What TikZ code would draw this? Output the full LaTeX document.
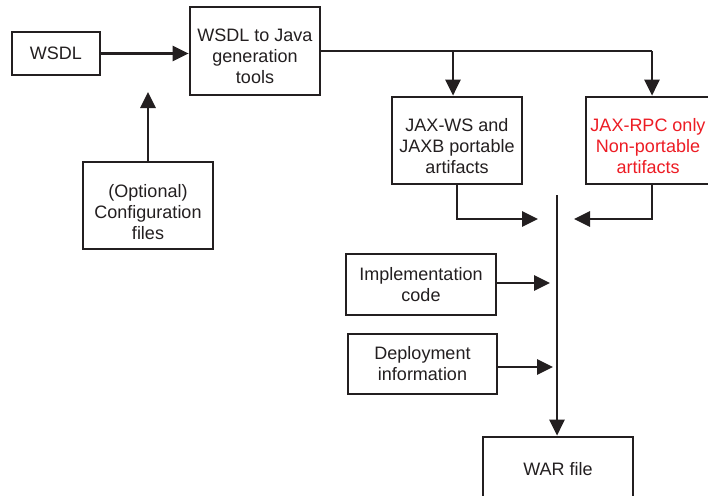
\documentclass[tikz,border=0pt]{standalone}
\usepackage{fontspec}
\setmainfont{Liberation Sans}
\usetikzlibrary{arrows.meta}
\definecolor{ink}{HTML}{231F20}
\definecolor{redtxt}{HTML}{ED1C24}
\begin{document}
\begin{tikzpicture}[x=1pt,y=-1pt,
  box/.style={draw=ink, line width=2.7pt, fill=white, text=ink, align=center,
    inner sep=0pt, font=\fontsize{18}{21}\selectfont},
  txt/.style={text=ink, align=center, inner sep=0pt, font=\fontsize{18}{21}\selectfont},
  conn/.style={draw=ink, line width=2.7pt},
  arr/.style={conn, -{Triangle[length=16pt,width=15pt]}}]
\useasboundingbox (0,0) rectangle (708,495);
\fill[white] (0,0) rectangle (708,495);
\node[box, minimum width=88pt, minimum height=43pt] (wsdl) at (56,53.5) {WSDL};
\node[box, minimum width=130pt, minimum height=88pt] (gen) at (255,51) {};
\node[txt] (gent) at ([yshift=-5pt]gen.center) {WSDL to Java\\generation\\tools};
\node[box, minimum width=130pt, minimum height=87pt] (cfg) at (148,205.5) {};
\node[txt] (cfgt) at ([yshift=-6.5pt]cfg.center) {(Optional)\\Configuration\\files};
\node[box, minimum width=130pt, minimum height=87pt] (jaxws) at (457,140.5) {};
\node[txt] (jaxwst) at ([yshift=-6pt]jaxws.center) {JAX-WS and\\JAXB portable\\artifacts};
\node[box, minimum width=130pt, minimum height=87pt] (jaxrpc) at (651,140.5) {};
\node[txt, text=redtxt] (jaxrpct) at ([yshift=-6pt,xshift=-3pt]jaxrpc.center) {JAX-RPC only\\Non-portable\\artifacts};
\node[box, minimum width=150pt, minimum height=61pt] (impl) at (421,284.5) {Implementation\\code};
\node[box, minimum width=149pt, minimum height=60pt] (depl) at (422.5,364) {Deployment\\information};
\node[box, minimum width=150pt, minimum height=64pt] (war) at (558,469) {WAR file};
\coordinate (cfgtip) at (148,92);
\coordinate (split1) at (453,51);
\coordinate (split2) at (652,51);
\coordinate (bustop) at (557,195);
\coordinate (wsin) at (538,219);
\coordinate (rpcin) at (574,219);
\coordinate (implin) at (550,283);
\coordinate (deplin) at (553,367);
\draw[arr] (wsdl.east) -- (wsdl.east -| gen.west);
\draw[arr] (cfg.north) -- (cfgtip);
\draw[conn] (gen.east |- split1) -- (split2);
\draw[arr] (split1) -- (split1 |- jaxws.north);
\draw[arr] (split2) -- (split2 |- jaxrpc.north);
\draw[arr] (jaxws.south) |- (wsin);
\draw[arr] (jaxrpc.south -| split2) |- (rpcin);
\draw[arr] (bustop) -- (bustop |- war.north);
\draw[arr] (impl.east |- implin) -- (implin);
\draw[arr] (depl.east |- deplin) -- (deplin);
\end{tikzpicture}
\end{document}
